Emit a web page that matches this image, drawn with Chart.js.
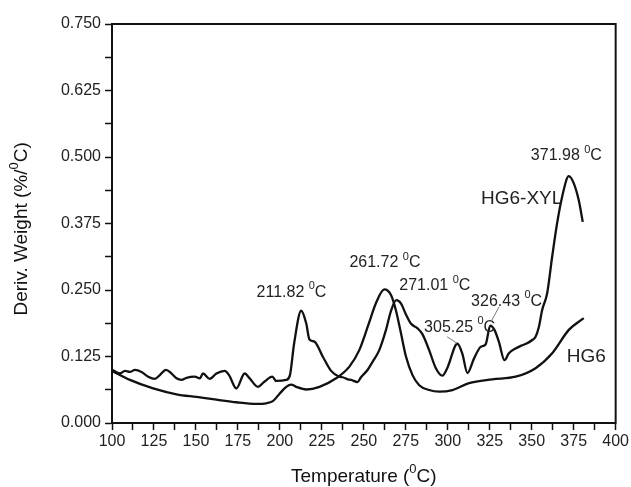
<!DOCTYPE html>
<html>
<head>
<meta charset="utf-8">
<script src="https://cdn.jsdelivr.net/npm/chart.js@4/dist/chart.umd.min.js"></script>
<style>
  body { margin: 0; background: #fff; }
  canvas { display: block; }
</style>
</head>
<body>
<canvas id="chart" width="631" height="487"></canvas>
<script>
// HG6-XYL derivative weight curve (temperature in C, %/C)
const xylTemp = [100, 104.8, 107.7, 110.7, 113.7, 117.6, 121.6, 125.5, 128.5, 132.1, 135.5, 138.4, 141.4, 144.4, 149.3, 152.3, 154.2, 158.2, 162.2, 167.1, 169.7, 174.1, 179, 182, 186.9, 190.9, 195.5, 197.8, 203.8, 206, 208.5, 212.7, 215.7, 217.6, 220.6, 225.5, 230.5, 235.4, 237.4, 240.4, 242.4, 246.3, 248.3, 252.3, 255.2, 259.2, 263.2, 266.1, 269.3, 272.1, 275.1, 278, 282, 284.9, 288.9, 292.9, 296.8, 299.8, 305.7, 308.7, 311.7, 315.6, 319.6, 322.6, 325.3, 327.8, 330.5, 333.8, 336.4, 340.4, 344.3, 347.3, 350.3, 352.3, 354.3, 356.2, 359.2, 362.2, 365.1, 368.1, 372.1, 375, 378, 380.4];
const xylValues = [0.100, 0.093, 0.098, 0.096, 0.100, 0.096, 0.087, 0.083, 0.090, 0.100, 0.093, 0.084, 0.081, 0.085, 0.087, 0.084, 0.093, 0.083, 0.093, 0.098, 0.090, 0.065, 0.093, 0.084, 0.068, 0.078, 0.087, 0.079, 0.081, 0.090, 0.150, 0.211, 0.187, 0.157, 0.153, 0.125, 0.098, 0.087, 0.086, 0.082, 0.081, 0.077, 0.086, 0.100, 0.115, 0.137, 0.175, 0.210, 0.231, 0.225, 0.204, 0.187, 0.178, 0.167, 0.137, 0.103, 0.089, 0.104, 0.149, 0.130, 0.094, 0.121, 0.143, 0.148, 0.183, 0.175, 0.152, 0.118, 0.131, 0.140, 0.146, 0.150, 0.156, 0.162, 0.181, 0.212, 0.244, 0.313, 0.375, 0.425, 0.464, 0.451, 0.419, 0.378];

// HG6 curve
const hg6Temp = [100, 110.7, 124.5, 138.4, 150.3, 162.2, 174.1, 186, 191.9, 195.8, 199.8, 203.8, 206.8, 209.7, 215.7, 223.6, 233.5, 241.4, 247.3, 253.3, 257.2, 262.2, 266.1, 269.1, 272.1, 275.1, 279, 283, 288.9, 294.9, 302.8, 312.7, 326.5, 340.4, 352.3, 362.2, 372.1, 381];
const hg6Values = [0.098, 0.081, 0.065, 0.054, 0.049, 0.044, 0.039, 0.036, 0.037, 0.041, 0.055, 0.068, 0.072, 0.068, 0.063, 0.068, 0.084, 0.106, 0.137, 0.190, 0.225, 0.251, 0.241, 0.212, 0.169, 0.125, 0.090, 0.071, 0.062, 0.059, 0.062, 0.075, 0.082, 0.087, 0.103, 0.131, 0.175, 0.197];

// peak labels: [text, temp, value] (text gets a superscript 0 + C)
const peakLabels = [
  ["211.82 ", 186.1, 0.246],
  ["261.72 ", 241.4, 0.301],
  ["271.01 ", 271.1, 0.258],
  ["326.43 ", 313.9, 0.229],
  ["305.25 ", 285.9, 0.180],
  ["371.98 ", 349.5, 0.502]
];
const seriesLabels = [
  ["HG6-XYL", 319.8, 0.421],
  ["HG6", 370.9, 0.124]
];
const leaderLines = [
  [299.6, 0.162, 305.5, 0.150],
  [330.5, 0.218, 325.7, 0.190]
];

const FONT = "'Liberation Sans', Arial, sans-serif";

function toPoints(xs, ys) {
  return xs.map((x, i) => ({ x: x, y: ys[i] }));
}

// draws "text" then a raised small 0 and C
function drawDegText(ctx, str, x, y, size) {
  ctx.font = size + "px " + FONT;
  ctx.fillText(str, x, y);
  let w = ctx.measureText(str).width;
  ctx.font = Math.round(size * 0.68) + "px " + FONT;
  ctx.fillText("0", x + w, y - size * 0.38);
  w += ctx.measureText("0").width;
  ctx.font = size + "px " + FONT;
  ctx.fillText("C", x + w, y);
  return w + ctx.measureText("C").width;
}

const annotate = {
  id: "annotate",
  afterDraw(chart) {
    const ctx = chart.ctx;
    const xs = chart.scales.x, ys = chart.scales.y;
    const a = chart.chartArea;
    ctx.save();
    // frame
    ctx.strokeStyle = "#111";
    ctx.lineWidth = 2;
    ctx.strokeRect(a.left, a.top, a.right - a.left, a.bottom - a.top);

    ctx.fillStyle = "#222";
    ctx.textBaseline = "middle";
    ctx.textAlign = "left";
    peakLabels.forEach(([t, x, y]) => {
      drawDegText(ctx, t, xs.getPixelForValue(x), ys.getPixelForValue(y), 16);
    });
    ctx.font = "19px " + FONT;
    seriesLabels.forEach(([t, x, y]) => {
      ctx.fillText(t, xs.getPixelForValue(x), ys.getPixelForValue(y));
    });

    ctx.strokeStyle = "#777";
    ctx.lineWidth = 1;
    leaderLines.forEach(([x1, y1, x2, y2]) => {
      ctx.beginPath();
      ctx.moveTo(xs.getPixelForValue(x1), ys.getPixelForValue(y1));
      ctx.lineTo(xs.getPixelForValue(x2), ys.getPixelForValue(y2));
      ctx.stroke();
    });

    // axis titles
    ctx.fillStyle = "#111";
    ctx.font = "19px " + FONT;
    let title = "Temperature (";
    let tw = ctx.measureText(title + "C)").width;
    ctx.font = "13px " + FONT;
    tw += ctx.measureText("0").width;
    let tx = (a.left + a.right) / 2 - tw / 2;
    let w = drawDegText(ctx, title, tx, 477, 19);
    ctx.font = "19px " + FONT;
    ctx.fillText(")", tx + w, 477);

    ctx.translate(22, 228);
    ctx.rotate(-Math.PI / 2);
    title = "Deriv. Weight (%/";
    ctx.font = "19px " + FONT;
    tw = ctx.measureText(title + "C)").width + 9;
    w = drawDegText(ctx, title, -tw / 2, 0, 19);
    ctx.font = "19px " + FONT;
    ctx.fillText(")", -tw / 2 + w, 0);
    ctx.restore();
  }
};

const tickFont = { family: FONT, size: 16 };

new Chart(document.getElementById("chart").getContext("2d"), {
  type: "line",
  data: {
    datasets: [
      {
        label: "HG6-XYL",
        data: toPoints(xylTemp, xylValues),
        borderColor: "#111",
        borderWidth: 2.3,
        pointRadius: 0,
        cubicInterpolationMode: "monotone"
      },
      {
        label: "HG6",
        data: toPoints(hg6Temp, hg6Values),
        borderColor: "#111",
        borderWidth: 2.3,
        pointRadius: 0,
        cubicInterpolationMode: "monotone"
      }
    ]
  },
  options: {
    responsive: false,
    animation: false,
    layout: { padding: { top: 24, right: 14, left: 0, bottom: 0 } },
    plugins: { legend: { display: false }, tooltip: { enabled: false } },
    scales: {
      x: {
        type: "linear",
        min: 100,
        max: 400,
        afterFit: (s) => { s.height = 64; },
        border: { color: "#111", width: 2 },
        grid: { drawOnChartArea: false, tickLength: 7, tickColor: "#111", tickWidth: 1.5 },
        ticks: {
          stepSize: 12.5,
          autoSkip: false,
          maxRotation: 0,
          padding: 2,
          color: "#222",
          font: tickFont,
          callback: (v) => (v % 25 === 0 ? String(v) : "")
        }
      },
      y: {
        min: 0,
        max: 0.75,
        afterFit: (s) => { s.width = 112; },
        border: { color: "#111", width: 2 },
        grid: { drawOnChartArea: false, tickLength: 7, tickColor: "#111", tickWidth: 1.5 },
        ticks: {
          stepSize: 0.0625,
          autoSkip: false,
          padding: 4,
          color: "#222",
          font: tickFont,
          callback: (v) => (Math.round(v / 0.0625) % 2 === 0 ? v.toFixed(3) : "")
        }
      }
    }
  },
  plugins: [annotate]
});
</script>
</body>
</html>
